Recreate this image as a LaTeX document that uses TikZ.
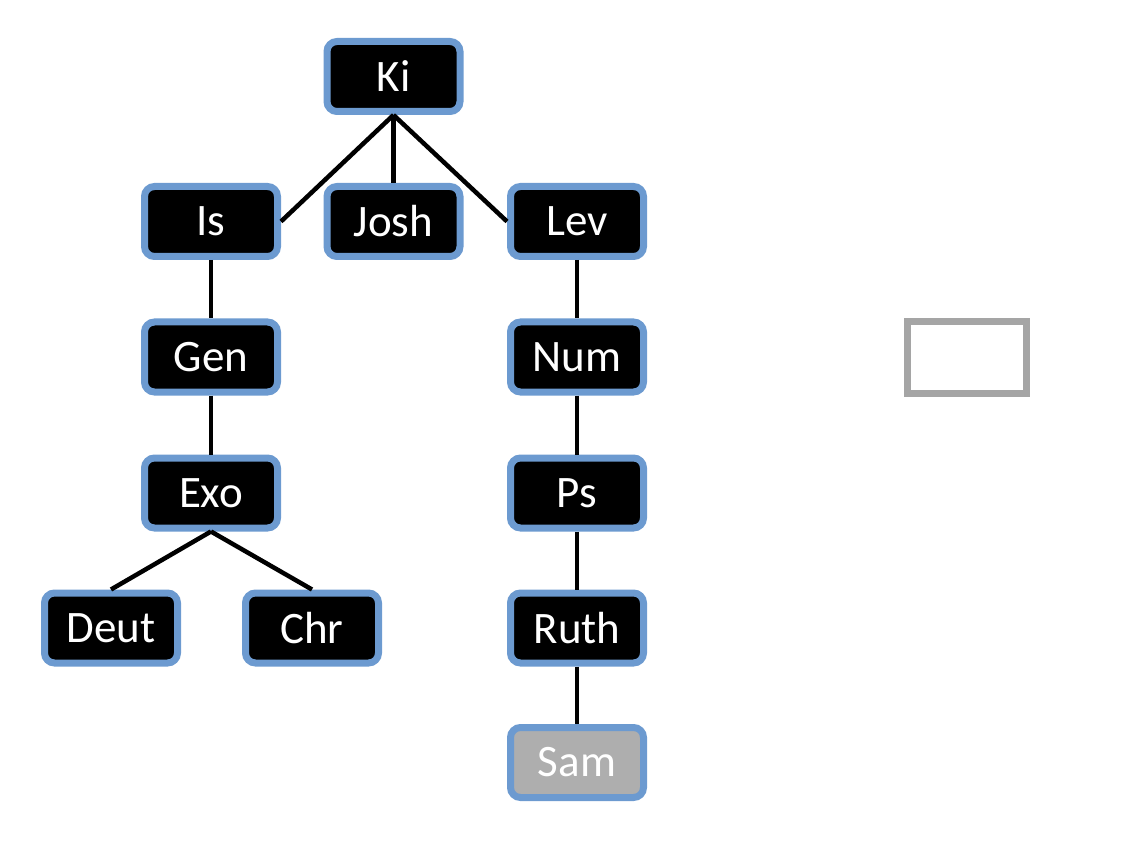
\documentclass[tikz,border=0pt]{standalone}
\usepackage{fontspec}
\setmainfont{Carlito}
\usepackage{tikz}
\definecolor{Rim}{RGB}{108,154,208}
\definecolor{Dim}{RGB}{174,174,174}
\definecolor{Frame}{RGB}{165,165,165}
\tikzset{
  book/.style={draw=Rim, line width=7pt, fill=black, rounded corners=10pt,
    minimum width=133pt, minimum height=70pt, inner sep=0pt,
    text=white, font=\fontsize{45}{54}\selectfont},
  bookdim/.style={book, fill=Dim},
  link/.style={line width=4.5pt, black}
}
\begin{document}
\begin{tikzpicture}[x=1pt,y=-1pt]
\useasboundingbox (0,0) rectangle (1124,858);
% top row
\node[book] (ki) at (393.5,76.5) {Ki};
\node[book] (is) at (211,221.5) {Is};
\node[book] (josh) at (393.5,221.5) {Josh};
\node[book] (lev) at (577,221.5) {Lev};
% left branch
\node[book] (gen) at (211,357) {Gen};
\node[book] (exo) at (211,493) {Exo};
\node[book] (deut) at (111,628) {Deut};
\node[book] (chr) at (312,628) {Chr};
% right branch
\node[book] (num) at (577,357) {Num};
\node[book] (ps) at (577,493) {Ps};
\node[book] (ruth) at (577,628) {Ruth};
\node[bookdim] (sam) at (577,762.5) {Sam};
% empty box
\node[draw=Frame, line width=7pt, minimum width=119pt, minimum height=72pt, inner sep=0pt] (blank) at (967,357.5) {};
\draw[link] (ki.south)--(is.east);
\draw[link] (ki.south)--(josh.north);
\draw[link] (ki.south)--(lev.west);
\draw[link] (is)--(gen);
\draw[link] (gen)--(exo);
\draw[link] (exo.south)--(deut.north);
\draw[link] (exo.south)--(chr.north);
\draw[link] (lev)--(num);
\draw[link] (num)--(ps);
\draw[link] (ps)--(ruth);
\draw[link] (ruth)--(sam);
\end{tikzpicture}
\end{document}
